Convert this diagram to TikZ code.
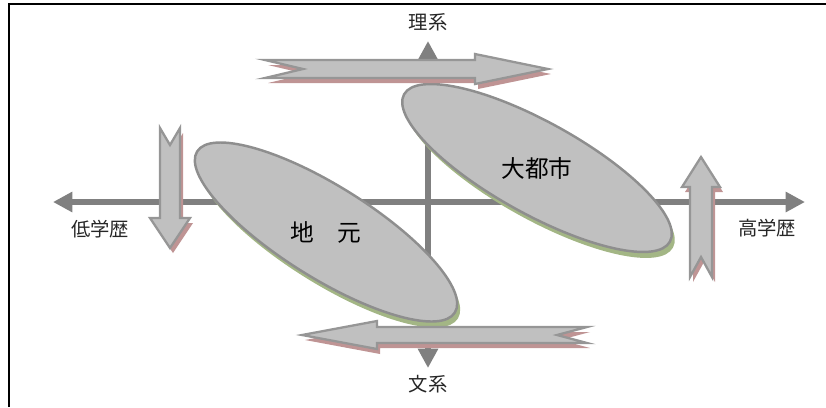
\documentclass[tikz,border=0pt]{standalone}
\usepackage{fontspec}
\newfontfamily\jpfont{Noto Sans CJK JP}
\usepackage{tikz}
\usetikzlibrary{arrows.meta,shapes.geometric}
\usepackage{xcolor}
\definecolor{axisgray}{HTML}{808080}
\definecolor{blobfill}{HTML}{C0C0C0}
\definecolor{blobline}{HTML}{8E8E8E}
\definecolor{arrowline}{HTML}{969696}
\definecolor{greenshade}{HTML}{A3B685}
\definecolor{redshade}{HTML}{BF9494}

\tikzset{
  pics/fatarrow/.style args={#1/#2/#3/#4/#5}{code={
    \path[pic actions] (0,#4) -- ({#1-#2},#4) -- ({#1-#2},#5) -- (#1,0)
      -- ({#1-#2},-#5) -- ({#1-#2},-#4) -- (0,-#4) -- (#3,0) -- cycle;
  }},
}

\begin{document}
\begin{tikzpicture}[x=0.02cm, y=-0.02cm,
  axisline/.style={draw=axisgray, line width=3.2pt,
    {Triangle[length=11pt,width=11pt]}-{Triangle[length=11pt,width=11pt]}},
  blob/.style={ellipse, draw=blobline, line width=1.4pt, fill=blobfill,
    minimum width=6.08cm, minimum height=1.84cm, inner sep=0pt},
  blobshadow/.style={ellipse, fill=greenshade,
    minimum width=6.08cm, minimum height=1.84cm, inner sep=0pt},
  arrowbody/.style={draw=arrowline, line width=1.3pt, fill=blobfill},
  arrowshadow/.style={fill=redshade},
  axislabel/.style={font=\jpfont\fontsize{11}{13}\selectfont, text=black!85},
  bloblabel/.style={font=\jpfont\fontsize{13.5}{15}\selectfont}]
  \useasboundingbox (0,0) rectangle (826,407);
  \draw[line width=1.1pt] (9,407) -- (9,4) -- (826,4);

  % axes
  \coordinate (west) at (53,202);
  \coordinate (east) at (805,202);
  \coordinate (north) at (428,41);
  \coordinate (south) at (428,368);
  \draw[axisline] (west) -- (east);
  \draw[axisline] (south) -- (north);
  \node[axislabel] (science) at (428,22) {理系};
  \node[axislabel] (humanities) at (428,384) {文系};
  \node[axislabel] (loweredu) at (100,229) {低学歴};
  \node[axislabel] (higheredu) at (767,228) {高学歴};

  % groups
  \node[blobshadow, rotate=-29] at (540,174) {};
  \node[blob, rotate=-29] (city) at (537,168) {};
  \node[bloblabel] (citylabel) at (city) {大都市};
  \node[blobshadow, rotate=-32] at (329,238) {};
  \node[blob, rotate=-32] (local) at (326,232) {};
  \node[bloblabel] (locallabel) at (local) {地　元};

  % shifts
  \pic[arrowshadow] at (268,74) {fatarrow=283/73/38/9/15};
  \pic[arrowbody] at (265,69) {fatarrow=283/73/38/9/15};
  \pic[arrowshadow, rotate=180] at (590,340) {fatarrow=285/75/30/8/14};
  \pic[arrowbody, rotate=180] at (587,335) {fatarrow=285/75/30/8/14};
  \pic[arrowshadow, rotate=-90] at (173,133) {fatarrow=120/30/17/10/20};
  \pic[arrowbody, rotate=-90] at (170,128) {fatarrow=120/30/17/10/20};
  \pic[arrowshadow, rotate=90] at (704,282) {fatarrow=120/30/20/11/19};
  \pic[arrowbody, rotate=90] at (701,277) {fatarrow=120/30/20/11/19};
\end{tikzpicture}
\end{document}
